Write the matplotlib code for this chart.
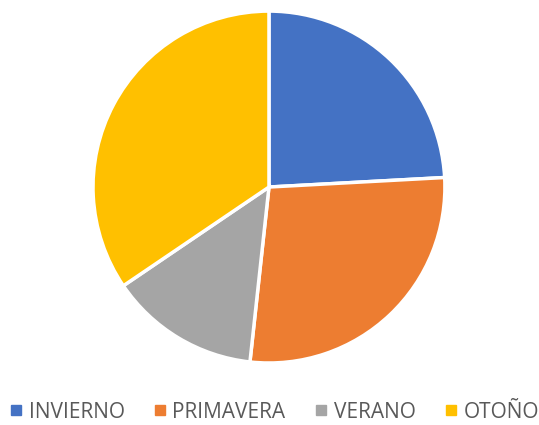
import matplotlib.pyplot as plt
from matplotlib.lines import Line2D

labels = ["INVIERNO", "PRIMAVERA", "VERANO", "OTOÑO"]
values = [7, 8, 4, 10]
colors = ["#4472C4", "#ED7D31", "#A5A5A5", "#FFC000"]

plt.rcParams['font.family'] = ['Open Sans', 'DejaVu Sans']

fig = plt.figure(figsize=(5.39, 4.25), dpi=100)
ax = fig.add_axes([0.1725, 0.1459, 0.653, 0.828])

ax.pie(values, colors=colors, startangle=90, counterclock=False, radius=1,
       wedgeprops=dict(edgecolor="white", linewidth=2.5))
ax.set_xlim(-1, 1)
ax.set_ylim(-1, 1)
ax.set_aspect("equal")

handles = [Line2D([0], [0], marker="s", linestyle="", markersize=6.5,
                  markerfacecolor=c, markeredgecolor=c) for c in colors]
fig.legend(handles, labels, loc="center", ncol=4, frameon=False,
           bbox_to_anchor=(0.507, 0.03), fontsize=15, labelcolor="#595959",
           handletextpad=0.2, columnspacing=1.3, handlelength=0.8,
           borderpad=0, borderaxespad=0)

fig.savefig("out.png", dpi=100)
